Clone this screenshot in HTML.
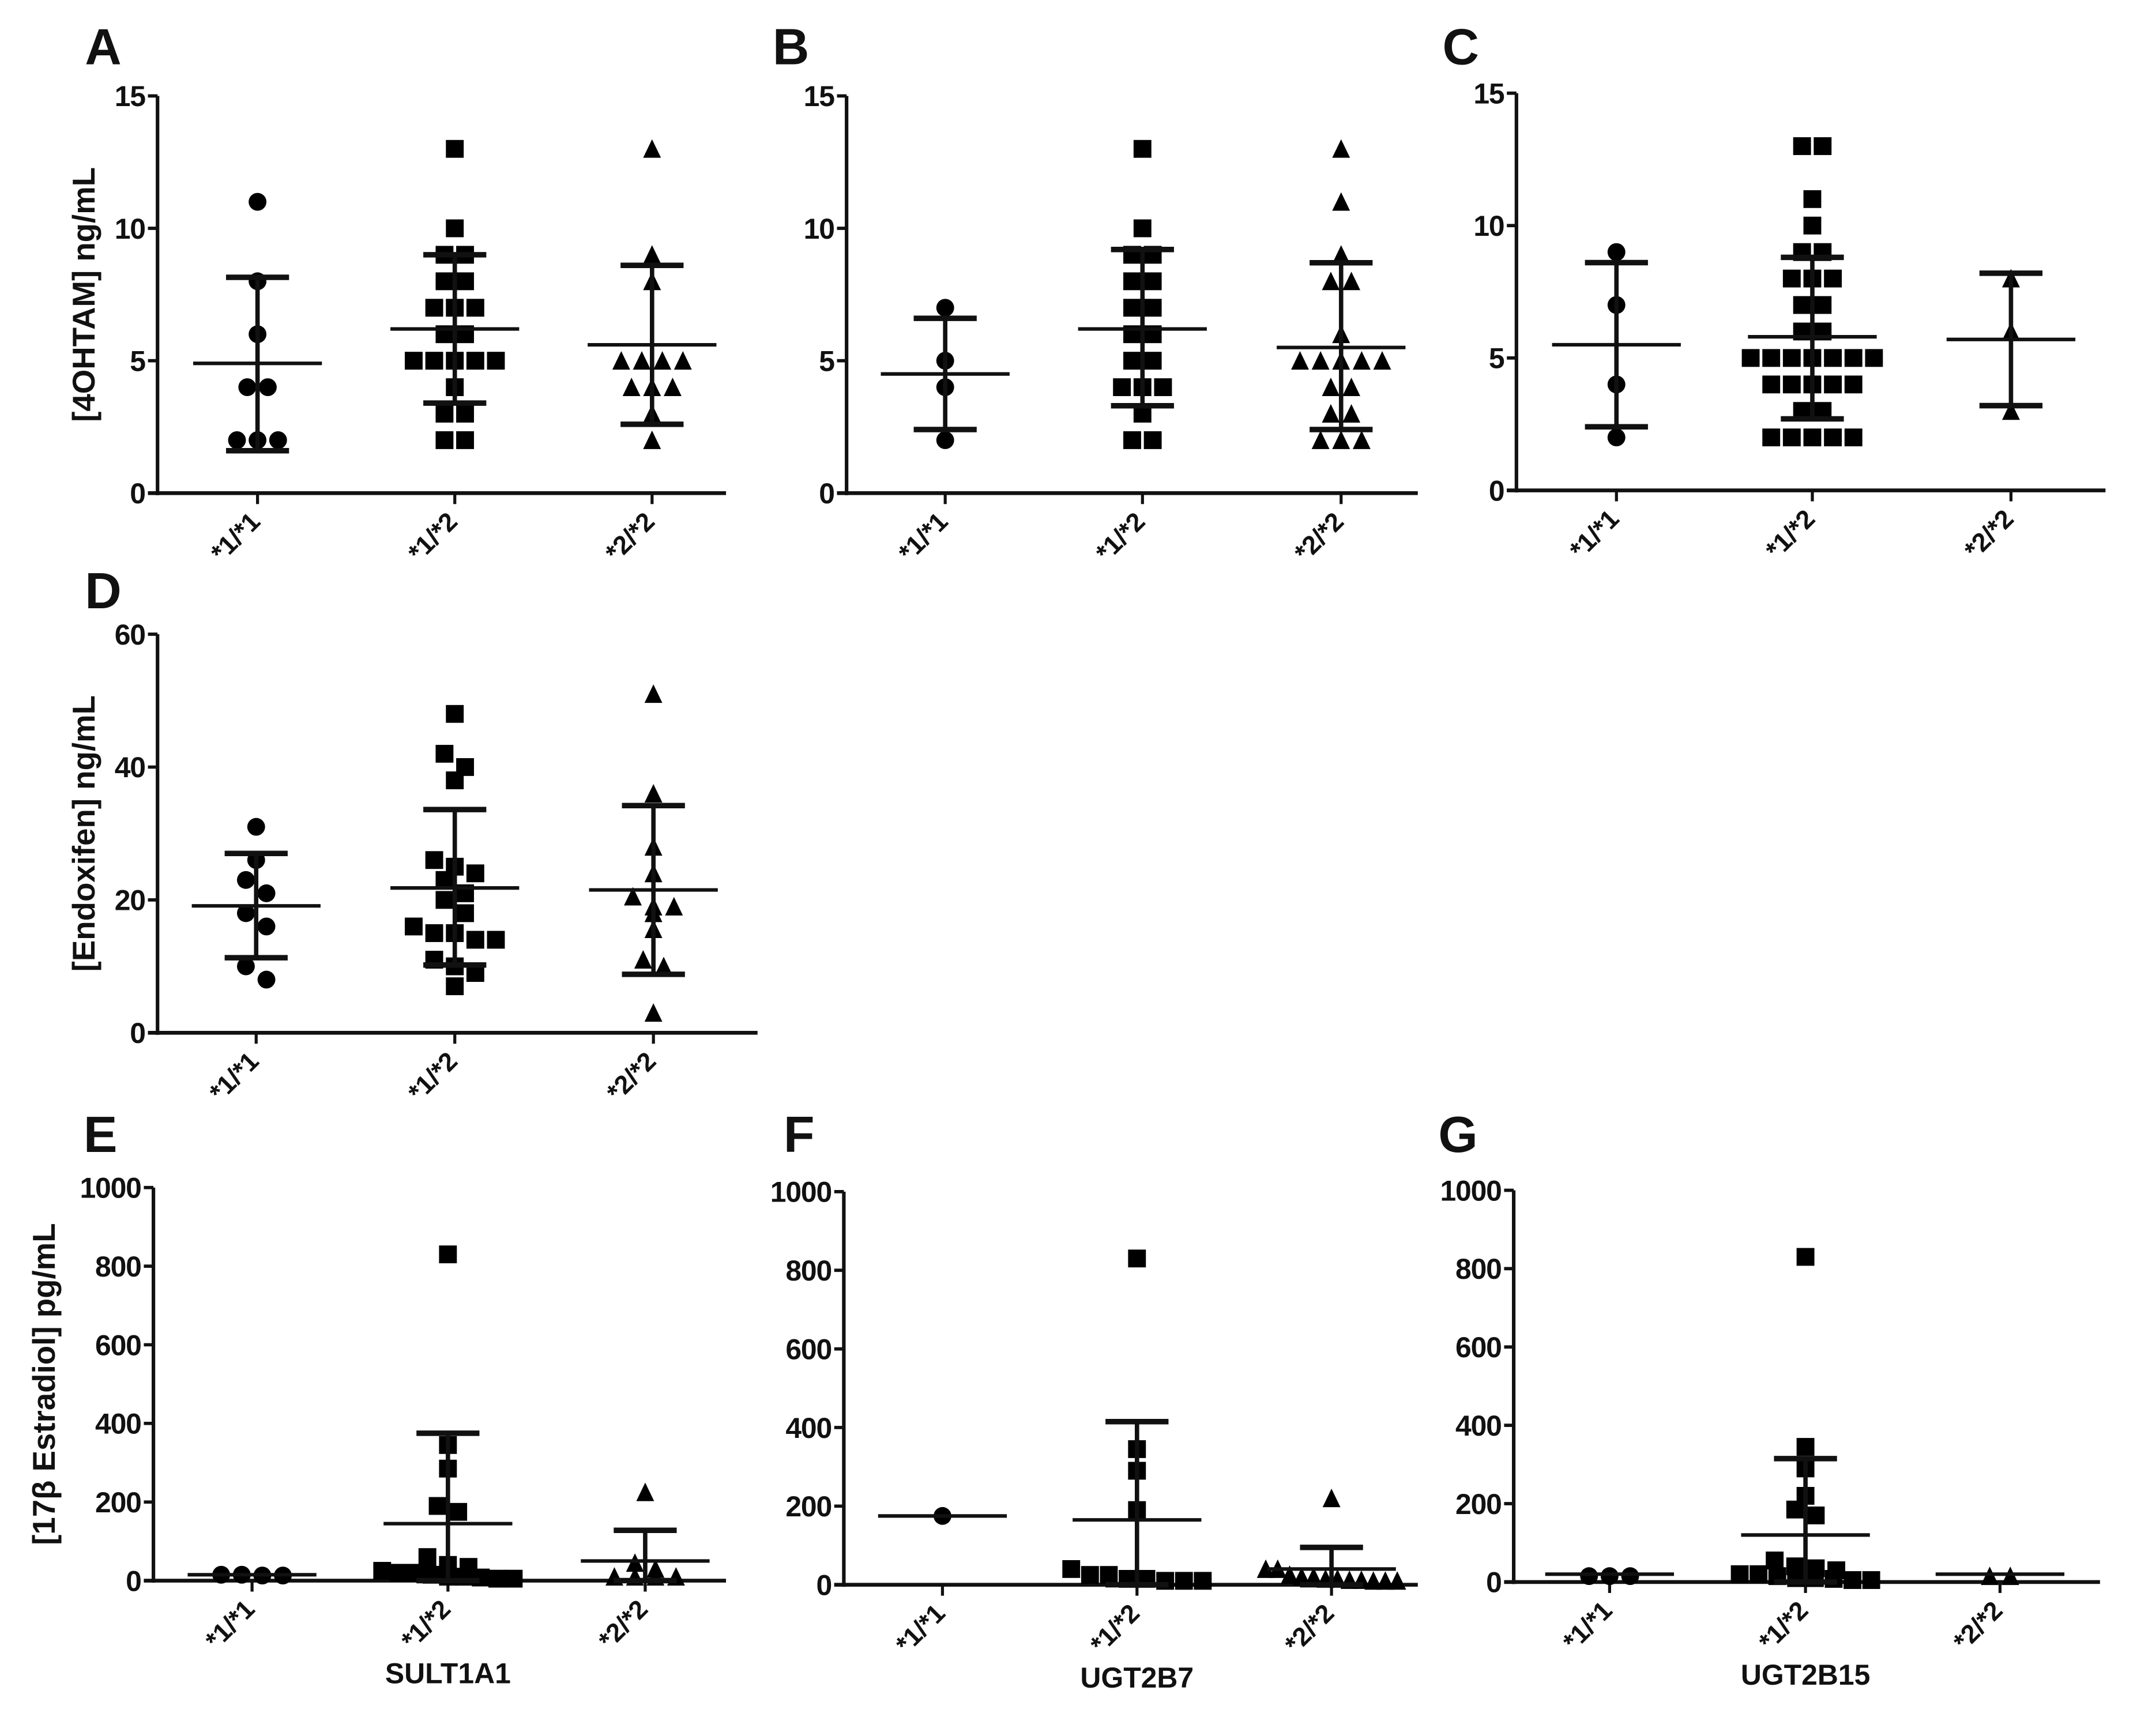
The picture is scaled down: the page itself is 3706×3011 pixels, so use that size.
<!DOCTYPE html>
<html><head><meta charset="utf-8">
<style>
html,body{margin:0;padding:0;background:#fff;}
svg{display:block;}
text{font-family:"Liberation Sans",Arial,sans-serif;font-weight:bold;fill:#111;}
</style></head>
<body>
<svg id="fig" width="3706" height="3011" viewBox="0 0 1560 1267.4" xmlns="http://www.w3.org/2000/svg">
<rect width="1560" height="1268" fill="#fff"/>
</svg>
<script>
// ---- Data ----
const categories = ["*1/*1", "*1/*2", "*2/*2"];

const valuesA1 = [11, 8, 6, 4, 4, 2, 2, 2];
const valuesA2 = [13, 10, 9, 9, 8, 8, 7, 7, 7, 6, 6, 5, 5, 5, 5, 5, 4, 3, 3, 2, 2];
const valuesA3 = [13, 9, 8, 5, 5, 5, 5, 4, 4, 4, 3, 2];
const meansA = [4.9, 6.2, 5.6];
const sdHiA = [8.15, 9.0, 8.6];
const sdLoA = [1.6, 3.4, 2.6];

const valuesB1 = [7, 5, 4, 2];
const valuesB2 = [13, 10, 9, 9, 8, 8, 7, 7, 6, 6, 5, 5, 4, 4, 4, 3, 2, 2];
const valuesB3 = [13, 11, 9, 8, 8, 6, 5, 5, 5, 5, 5, 4, 4, 3, 3, 2, 2, 2];
const meansB = [4.5, 6.2, 5.5];
const sdHiB = [6.6, 9.2, 8.7];
const sdLoB = [2.4, 3.3, 2.4];

const valuesC1 = [9, 7, 4, 2];
const valuesC2 = [13, 13, 11, 10, 9, 9, 8, 8, 8, 7, 7, 6, 6, 5, 5, 5, 5, 5, 5, 5, 4, 4, 4, 4, 4, 3, 3, 2, 2, 2, 2, 2];
const valuesC3 = [8, 6, 3];
const meansC = [5.5, 5.8, 5.7];
const sdHiC = [8.6, 8.8, 8.2];
const sdLoC = [2.4, 2.7, 3.2];

const valuesD1 = [31, 26, 23, 21, 18, 16, 10, 8];
const valuesD2 = [48, 42, 40, 38, 26, 25, 24, 23, 21, 20, 18, 16, 15, 15, 14, 14, 11, 10, 9, 7];
const valuesD3 = [51, 36, 28, 24, 20.5, 19, 19, 18, 15.6, 11, 10, 3];
const meansD = [19.1, 21.8, 21.5];
const sdHiD = [27, 33.6, 34.2];
const sdLoD = [11.3, 10.2, 8.8];

const valuesE1 = [15, 13, 13, 15];
const valuesE2 = [830, 345, 285, 190, 175, 60, 40, 35, 25, 20, 15, 10, 8, 5, 5, 10, 20];
const valuesE3 = [225, 45, 30, 10, 10, 10, 10];
const meansE = [15, 145, 50];
const sdHiE = [15, 375, 128];
const sdLoE = [15, -85, -28];

const valuesF1 = [175];
const valuesF2 = [830, 345, 290, 190, 40, 25, 15, 10, 10, 10, 15, 25];
const valuesF3 = [220, 40, 40, 25, 20, 15, 12, 10, 10, 10, 12, 15, 20];
const meansF = [175, 165, 40];
const sdHiF = [175, 415, 95];
const sdLoF = [175, -85, -15];

const valuesG1 = [15, 15, 15];
const valuesG2 = [830, 345, 290, 220, 185, 170, 55, 40, 30, 20, 15, 10, 8, 5, 5, 10, 20, 35];
const valuesG3 = [15, 15];
const meansG = [20, 120, 20];
const sdHiG = [20, 315, 20];
const sdLoG = [20, -75, 20];

const ticks15 = [0, 5, 10, 15];
const ticks60 = [0, 20, 40, 60];
const ticks1000 = [0, 200, 400, 600, 800, 1000];

// ---- Layout ----
const NS = "http://www.w3.org/2000/svg";
const svg = document.getElementById("fig");
const shapes = ["circle", "square", "triangle"];
function el(tag, attrs, parent) {
  const e = document.createElementNS(NS, tag);
  for (const k in attrs) e.setAttribute(k, attrs[k]);
  (parent || svg).appendChild(e);
  return e;
}

const panels = [
  {id:"a", letter:"A", lx:62, ly:47, x0:115, xEnd:530, yTop:70, yBot:360, ymax:15, ticks:ticks15, cats:[188,332,476], groups:[valuesA1,valuesA2,valuesA3], means:meansA, hi:sdHiA, lo:sdLoA, ytitle:"[4OHTAM] ng/mL", tx:61, gene:null},
  {id:"b", letter:"B", lx:564, ly:47, x0:618, xEnd:1035, yTop:70, yBot:360, ymax:15, ticks:ticks15, cats:[690,834,979], groups:[valuesB1,valuesB2,valuesB3], means:meansB, hi:sdHiB, lo:sdLoB, ytitle:null, gene:null},
  {id:"c", letter:"C", lx:1053, ly:47, x0:1107, xEnd:1537, yTop:68, yBot:358, ymax:15, ticks:ticks15, cats:[1180,1323,1468], groups:[valuesC1,valuesC2,valuesC3], means:meansC, hi:sdHiC, lo:sdLoC, ytitle:null, gene:null},
  {id:"d", letter:"D", lx:62, ly:444, x0:115, xEnd:553, yTop:463, yBot:754, ymax:60, ticks:ticks60, cats:[187,332,477], groups:[valuesD1,valuesD2,valuesD3], means:meansD, hi:sdHiD, lo:sdLoD, ytitle:"[Endoxifen] ng/mL", tx:61, gene:null},
  {id:"e", letter:"E", lx:61, ly:841, x0:112, xEnd:530, yTop:867, yBot:1154, ymax:1000, ticks:ticks1000, cats:[184,327,471], groups:[valuesE1,valuesE2,valuesE3], means:meansE, hi:sdHiE, lo:sdLoE, ytitle:"[17\u03B2 Estradiol] pg/mL", tx:32, gene:"SULT1A1"},
  {id:"f", letter:"F", lx:572, ly:841, x0:616, xEnd:1035, yTop:870, yBot:1157, ymax:1000, ticks:ticks1000, cats:[688,830,972], groups:[valuesF1,valuesF2,valuesF3], means:meansF, hi:sdHiF, lo:sdLoF, ytitle:null, gene:"UGT2B7"},
  {id:"g", letter:"G", lx:1050, ly:841, x0:1105, xEnd:1533, yTop:869, yBot:1155, ymax:1000, ticks:ticks1000, cats:[1175,1318,1460], groups:[valuesG1,valuesG2,valuesG3], means:meansG, hi:sdHiG, lo:sdLoG, ytitle:null, gene:"UGT2B15"}
];

const MS = 13, STEP = 15, MAXSPAN = 96;

function drawMarker(g, shape, x, y) {
  let m;
  if (shape === "circle") m = el("circle", {cx:x, cy:y, r:MS/2, fill:"#000"}, g);
  else if (shape === "square") m = el("rect", {x:x-MS/2, y:y-MS/2, width:MS, height:MS, fill:"#000"}, g);
  else m = el("polygon", {points:(x)+","+(y-MS/2-0.5)+" "+(x+MS/2)+","+(y+MS/2)+" "+(x-MS/2)+","+(y+MS/2), fill:"#000"}, g);
  
  
}

panels.forEach(p => {
  const g = el("g", {});
  
  
  const ys = v => p.yBot - (v / p.ymax) * (p.yBot - p.yTop);

  const L = el("text", {x:p.lx, y:p.ly, "font-size":37}, g);
  L.textContent = p.letter;
  
  

  const ya = el("line", {x1:p.x0, y1:p.yTop, x2:p.x0, y2:p.yBot+1.5, stroke:"#111", "stroke-width":2.6}, g);
  
  
  const xa = el("line", {x1:p.x0-7, y1:p.yBot, x2:p.xEnd, y2:p.yBot, stroke:"#111", "stroke-width":2.8}, g);
  
  

  p.ticks.forEach(t => {
    const y = ys(t);
    const tk = el("line", {x1:p.x0-7, y1:y, x2:p.x0, y2:y, stroke:"#111", "stroke-width":2.4}, g);
    
    
    const tl = el("text", {x:p.x0-9, y:y+7.5, "font-size":21, "text-anchor":"end", "letter-spacing":"-0.5"}, g);
    tl.textContent = t;
    
    
  });

  categories.forEach((c, i) => {
    const cx = p.cats[i];
    const tk = el("line", {x1:cx, y1:p.yBot, x2:cx, y2:p.yBot+8, stroke:"#111", "stroke-width":2.2}, g);
    
    
    const tl = el("text", {x:0, y:0, "font-size":19, "text-anchor":"end", transform:"translate("+(cx+3)+","+(p.yBot+22)+") rotate(-45)"}, g);
    tl.textContent = c;
    
    
  });

  if (p.ytitle) {
    const cy = (p.yTop + p.yBot) / 2;
    const t = el("text", {x:0, y:0, "font-size":23, "text-anchor":"middle", transform:"translate("+(p.tx+8)+","+cy+") rotate(-90)"}, g);
    t.textContent = p.ytitle;
    
    
  }
  if (p.gene) {
    const t = el("text", {x:p.cats[1], y:p.yBot+75, "font-size":21, "text-anchor":"middle"}, g);
    t.textContent = p.gene;
    
    
  }

  p.groups.forEach((vals, gi) => {
    const cx = p.cats[gi];
    const sorted = vals.slice().sort((a, b) => b - a);
    let rows = [];
    sorted.forEach(v => {
      const py = ys(v);
      const r = rows.length ? rows[rows.length - 1] : null;
      if (r && Math.abs(py - r.y0) < MS * 0.75) r.ys.push(py);
      else rows.push({y0:py, ys:[py]});
    });
    rows.forEach(r => {
      const n = r.ys.length;
      const step = n > 1 ? Math.min(STEP, MAXSPAN / (n - 1)) : STEP;
      r.ys.forEach((py, k) => drawMarker(g, shapes[gi], cx + (k - (n - 1) / 2) * step, py));
    });

    const my = ys(p.means[gi]);
    const ml = el("line", {x1:cx-47, y1:my, x2:cx+47, y2:my, stroke:"#111", "stroke-width":2.6}, g);
    
    
    const hi = p.hi[gi], lo = Math.max(0, p.lo[gi]);
    if (hi > lo + 0.0001) {
      const yh = ys(hi), yl = ys(lo);
      const vl = el("line", {x1:cx, y1:yh, x2:cx, y2:yl, stroke:"#111", "stroke-width":3.2}, g);
      
      
      const c1 = el("line", {x1:cx-23, y1:yh, x2:cx+23, y2:yh, stroke:"#111", "stroke-width":4}, g);
      
      
      const c2 = el("line", {x1:cx-23, y1:yl, x2:cx+23, y2:yl, stroke:"#111", "stroke-width":4}, g);
      
      
    }
  });
});
</script>
</body></html>
